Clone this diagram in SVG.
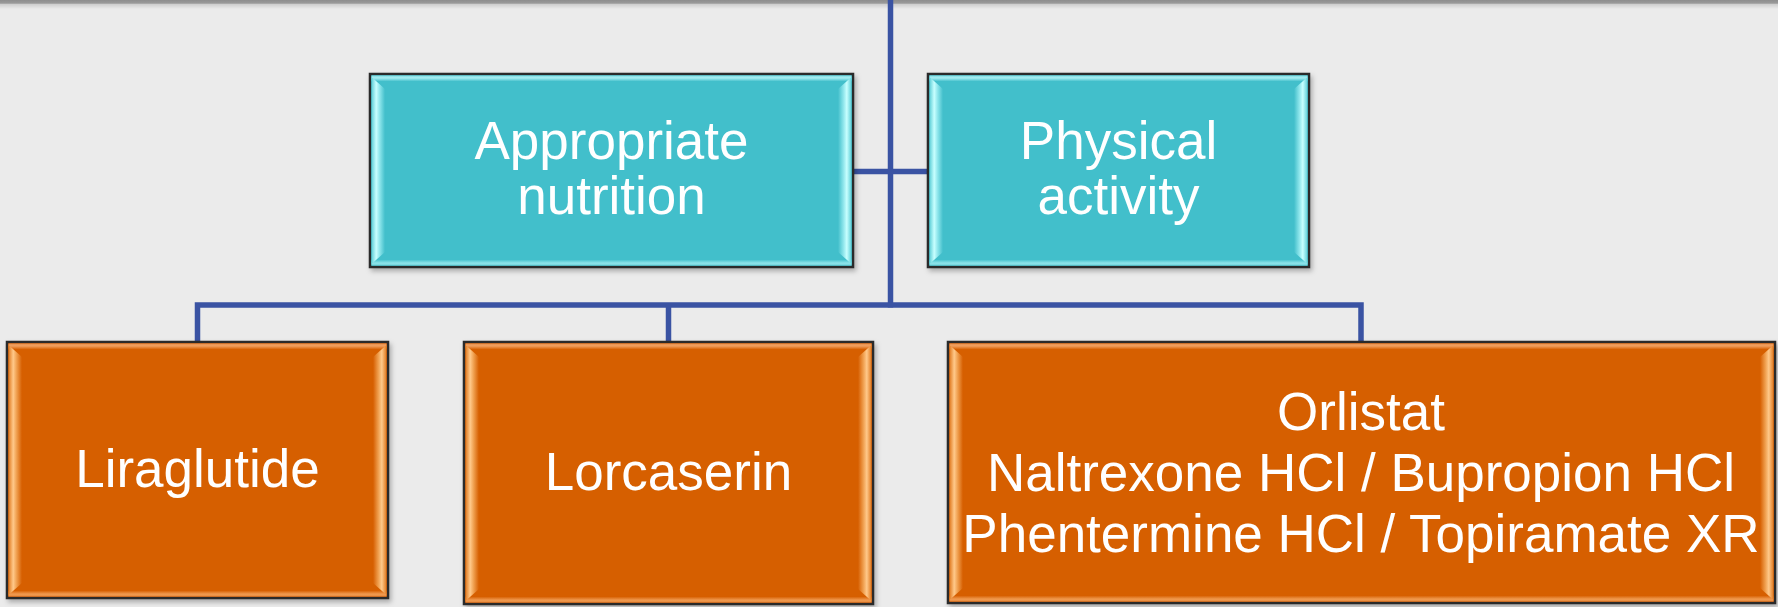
<svg xmlns="http://www.w3.org/2000/svg" width="1778" height="607" viewBox="0 0 1778 607">
  <style>
    .lbl { font-family: "Liberation Sans", Arial, sans-serif; font-size: 53px; fill: #ffffff; text-anchor: middle; }
    .conn { stroke: #3a53a3; stroke-width: 5.5; fill: none; stroke-linecap: butt; }
    .frame { stroke: #2a2a2a; stroke-width: 2.5; }
    .cyan { fill: #42bfcb; }
    .orange { fill: #d65e00; }
  </style>
  <defs>
    <filter id="sh" x="-5%" y="-5%" width="110%" height="115%">
      <feDropShadow dx="2" dy="3" stdDeviation="2.5" flood-color="#000" flood-opacity="0.28"/>
    </filter>
    <linearGradient id="topband" x1="0" y1="0" x2="0" y2="1">
      <stop offset="0" stop-color="#8e8e8e"/>
      <stop offset="0.35" stop-color="#9a9a9a"/>
      <stop offset="0.5" stop-color="#d0d0d0"/>
      <stop offset="1" stop-color="#ebebeb"/>
    </linearGradient>
    <linearGradient id="cL" x1="0" y1="0" x2="1" y2="0">
      <stop offset="0" stop-color="#5fcfd8"/>
      <stop offset="0.35" stop-color="#c8ffff"/>
      <stop offset="0.6" stop-color="#8fe6ec"/>
      <stop offset="1" stop-color="#42bfcb"/>
    </linearGradient>
    <linearGradient id="cR" x1="1" y1="0" x2="0" y2="0">
      <stop offset="0" stop-color="#5fcfd8"/>
      <stop offset="0.35" stop-color="#c8ffff"/>
      <stop offset="0.6" stop-color="#8fe6ec"/>
      <stop offset="1" stop-color="#42bfcb"/>
    </linearGradient>
    <linearGradient id="cT" x1="0" y1="0" x2="0" y2="1">
      <stop offset="0" stop-color="#7fdbe2"/>
      <stop offset="0.4" stop-color="#a8eef2"/>
      <stop offset="1" stop-color="#42bfcb"/>
    </linearGradient>
    <linearGradient id="cB" x1="0" y1="1" x2="0" y2="0">
      <stop offset="0" stop-color="#6fd4dc"/>
      <stop offset="0.4" stop-color="#8fe4ea"/>
      <stop offset="1" stop-color="#42bfcb"/>
    </linearGradient>
    <linearGradient id="oL" x1="0" y1="0" x2="1" y2="0">
      <stop offset="0" stop-color="#e07a20"/>
      <stop offset="0.35" stop-color="#ffc98a"/>
      <stop offset="0.6" stop-color="#f0a050"/>
      <stop offset="1" stop-color="#d65e00"/>
    </linearGradient>
    <linearGradient id="oR" x1="1" y1="0" x2="0" y2="0">
      <stop offset="0" stop-color="#e07a20"/>
      <stop offset="0.35" stop-color="#ffc98a"/>
      <stop offset="0.6" stop-color="#f0a050"/>
      <stop offset="1" stop-color="#d65e00"/>
    </linearGradient>
    <linearGradient id="oT" x1="0" y1="0" x2="0" y2="1">
      <stop offset="0" stop-color="#e8904a"/>
      <stop offset="0.4" stop-color="#f0a060"/>
      <stop offset="1" stop-color="#d65e00"/>
    </linearGradient>
    <linearGradient id="oB" x1="0" y1="1" x2="0" y2="0">
      <stop offset="0" stop-color="#e98a3c"/>
      <stop offset="0.4" stop-color="#f09a50"/>
      <stop offset="1" stop-color="#d65e00"/>
    </linearGradient>
  </defs>

  <rect x="0" y="0" width="1778" height="607" fill="#ebebeb"/>
  <rect x="0" y="0" width="1778" height="9" fill="url(#topband)"/>

  <g id="connectors">
    <line class="conn" x1="890.5" y1="0" x2="890.5" y2="307.5"/>
    <line class="conn" x1="853" y1="171.5" x2="928" y2="171.5"/>
    <polyline class="conn" points="197.5,342 197.5,305 1361,305 1361,342"/>
    <line class="conn" x1="668.5" y1="305" x2="668.5" y2="342"/>
  </g>

  <g id="node-nutrition">
    <rect class="cyan frame" x="370" y="74" width="483" height="193" filter="url(#sh)"/>
    <rect x="371.5" y="75.5" width="480" height="6" fill="url(#cT)"/>
    <rect x="371.5" y="259.5" width="480" height="6" fill="url(#cB)"/>
    <polygon points="371.5,77 385,89 385,252 371.5,264" fill="url(#cL)"/>
    <polygon points="851.5,77 838,89 838,252 851.5,264" fill="url(#cR)"/>
    <text class="lbl" x="611.5" y="159">Appropriate</text>
    <text class="lbl" x="611.5" y="214">nutrition</text>
  </g>

  <g id="node-activity">
    <rect class="cyan frame" x="928" y="74" width="381" height="193" filter="url(#sh)"/>
    <rect x="929.5" y="75.5" width="378" height="6" fill="url(#cT)"/>
    <rect x="929.5" y="259.5" width="378" height="6" fill="url(#cB)"/>
    <polygon points="929.5,77 943,89 943,252 929.5,264" fill="url(#cL)"/>
    <polygon points="1307.5,77 1294,89 1294,252 1307.5,264" fill="url(#cR)"/>
    <text class="lbl" x="1118.5" y="159">Physical</text>
    <text class="lbl" x="1118.5" y="214">activity</text>
  </g>

  <g id="node-liraglutide">
    <rect class="orange frame" x="7" y="342" width="381" height="256" filter="url(#sh)"/>
    <rect x="8.5" y="343.5" width="378" height="6" fill="url(#oT)"/>
    <rect x="8.5" y="590.5" width="378" height="6" fill="url(#oB)"/>
    <polygon points="8.5,345 22,357 22,583 8.5,595" fill="url(#oL)"/>
    <polygon points="386.5,345 373,357 373,583 386.5,595" fill="url(#oR)"/>
    <text class="lbl" x="197.5" y="487">Liraglutide</text>
  </g>

  <g id="node-lorcaserin">
    <rect class="orange frame" x="464" y="342" width="409" height="262" filter="url(#sh)"/>
    <rect x="465.5" y="343.5" width="406" height="6" fill="url(#oT)"/>
    <rect x="465.5" y="596.5" width="406" height="6" fill="url(#oB)"/>
    <polygon points="465.5,345 479,357 479,589 465.5,601" fill="url(#oL)"/>
    <polygon points="871.5,345 858,357 858,589 871.5,601" fill="url(#oR)"/>
    <text class="lbl" x="668.5" y="490">Lorcaserin</text>
  </g>

  <g id="node-other-drugs">
    <rect class="orange frame" x="948" y="342" width="827" height="261" filter="url(#sh)"/>
    <rect x="949.5" y="343.5" width="824" height="6" fill="url(#oT)"/>
    <rect x="949.5" y="595.5" width="824" height="6" fill="url(#oB)"/>
    <polygon points="949.5,345 963,357 963,588 949.5,600" fill="url(#oL)"/>
    <polygon points="1773.5,345 1760,357 1760,588 1773.5,600" fill="url(#oR)"/>
    <text class="lbl" x="1361" y="430">Orlistat</text>
    <text class="lbl" x="1361" y="491">Naltrexone HCl / Bupropion HCl</text>
    <text class="lbl" x="1361" y="552">Phentermine HCl / Topiramate XR</text>
  </g>
</svg>
